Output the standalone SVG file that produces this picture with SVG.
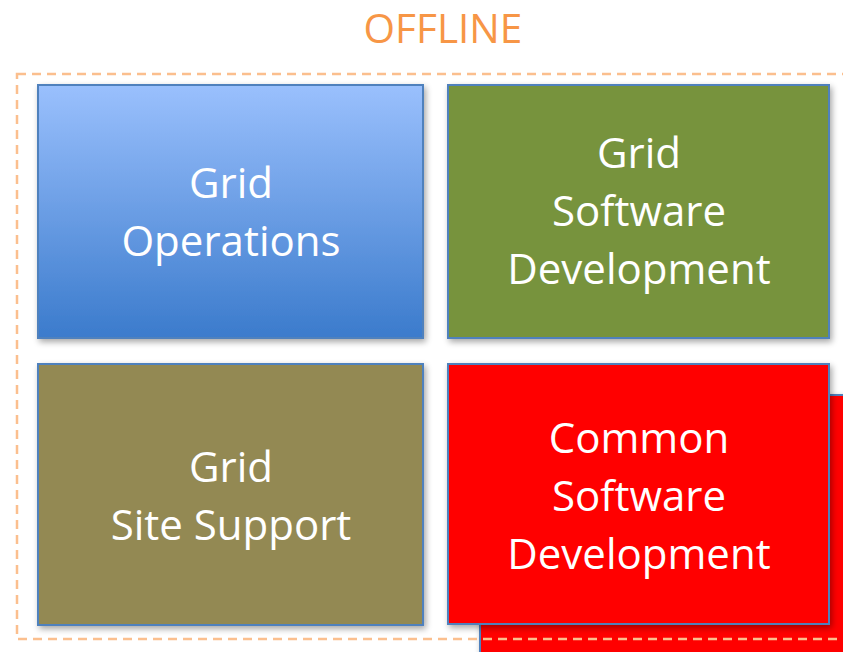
<svg xmlns="http://www.w3.org/2000/svg" width="843" height="652" viewBox="0 0 843 652">
<defs>
<linearGradient id="blueGrad" x1="0" y1="0" x2="0" y2="1">
<stop offset="0" stop-color="#9ac0fd"/>
<stop offset="1" stop-color="#3b7bcc"/>
</linearGradient>
<filter id="shadow" x="-5%" y="-5%" width="115%" height="115%">
<feGaussianBlur in="SourceAlpha" stdDeviation="3"/>
<feOffset dx="2" dy="3" result="b"/>
<feComponentTransfer><feFuncA type="linear" slope="0.35"/></feComponentTransfer>
<feMerge><feMergeNode/><feMergeNode in="SourceGraphic"/></feMerge>
</filter>
</defs>
<style>
.box{stroke:#4f81bd;stroke-width:2;filter:url(#shadow);}
.lbl{font-family:"Open Sans","Liberation Sans",sans-serif;font-size:42px;fill:#ffffff;text-anchor:middle;}
.title{font-family:"Open Sans","Liberation Sans",sans-serif;font-size:40.5px;fill:#f79646;text-anchor:middle;}
.frame{fill:none;stroke:#fbbf8e;stroke-width:2.5;stroke-dasharray:9 6;}
</style>
<g id="back-box">
<rect class="box" x="480" y="395" width="380" height="280" fill="#ff0000"/>
</g>
<g id="offline">
<text class="title" x="443" y="43">OFFLINE</text>
<rect class="frame" x="17" y="74" width="840" height="565"/>
</g>
<g id="grid-operations">
<rect class="box" x="38" y="85" width="385" height="253" fill="url(#blueGrad)"/>
<text class="lbl" x="231" y="198">Grid</text>
<text class="lbl" x="231" y="256">Operations</text>
</g>
<g id="grid-software-development">
<rect class="box" x="448" y="85" width="381" height="253" fill="#77933c"/>
<text class="lbl" x="639" y="168">Grid</text>
<text class="lbl" x="639" y="226">Software</text>
<text class="lbl" x="639" y="284">Development</text>
</g>
<g id="grid-site-support">
<rect class="box" x="38" y="364" width="385" height="261" fill="#938953"/>
<text class="lbl" x="231" y="482">Grid</text>
<text class="lbl" x="231" y="540">Site Support</text>
</g>
<g id="common-software-development">
<rect class="box" x="448" y="364" width="381" height="260" fill="#ff0000"/>
<text class="lbl" x="639" y="453">Common</text>
<text class="lbl" x="639" y="511">Software</text>
<text class="lbl" x="639" y="569">Development</text>
</g>
<g id="connectors"/>
</svg>
